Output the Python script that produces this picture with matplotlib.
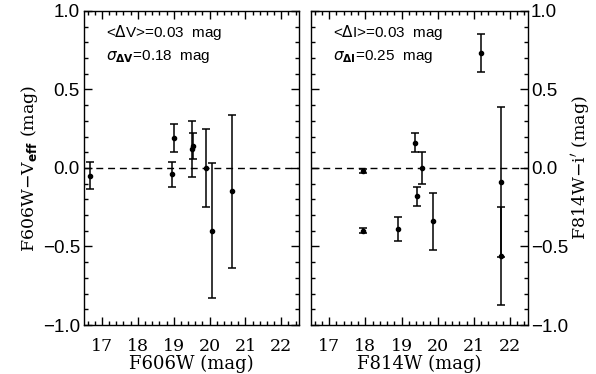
import matplotlib.pyplot as plt
from matplotlib.ticker import MultipleLocator

# F606W panel
v_mag = [16.67, 18.95, 19.01, 19.51, 19.55, 19.89, 20.08, 20.62]
v_diff = [-0.05, -0.04, 0.19, 0.12, 0.14, 0.00, -0.40, -0.15]
v_err = [0.085, 0.08, 0.09, 0.18, 0.085, 0.25, 0.43, 0.49]

# F814W panel
i_mag = [17.94, 17.94, 18.90, 19.37, 19.44, 19.58, 19.87, 21.19, 21.76, 21.76]
i_diff = [-0.02, -0.40, -0.39, 0.16, -0.18, 0.00, -0.34, 0.73, -0.09, -0.56]
i_err = [0.015, 0.015, 0.075, 0.06, 0.06, 0.10, 0.18, 0.12, 0.48, 0.31]

serif = 'DejaVu Serif'
sans = 'Liberation Sans'

fig = plt.figure(figsize=(5.96, 3.74), dpi=100)
ax1 = fig.add_axes([0.141, 0.131, 0.361, 0.840])
ax2 = fig.add_axes([0.522, 0.131, 0.364, 0.840])

panels = [
    (ax1, v_mag, v_diff, v_err, r'<$\Delta$V>=0.03  mag',
     r'$\sigma_{\mathbf{\Delta V}}$=0.18  mag', r'F606W$-$V$_{\mathbf{eff}}$ (mag)', 'F606W (mag)'),
    (ax2, i_mag, i_diff, i_err, r'<$\Delta$I>=0.03  mag',
     r'$\sigma_{\mathbf{\Delta I}}$=0.25  mag', r"F814W$-$i$'$ (mag)", 'F814W (mag)'),
]

for ax, x, y, e, t1, t2, ylab, xlab in panels:
    ax.errorbar(x, y, yerr=e, fmt='o', color='black', ms=3, elinewidth=1.1,
                capsize=3, capthick=1.1)
    ax.axhline(0, color='black', ls=(0, (5, 3.5)), lw=1)
    ax.set_xlim(16.5, 22.5)
    ax.set_ylim(-1.0, 1.0)
    ax.xaxis.set_major_locator(MultipleLocator(1))
    ax.xaxis.set_minor_locator(MultipleLocator(0.2))
    ax.yaxis.set_minor_locator(MultipleLocator(0.1))
    ax.set_yticks([-1.0, -0.5, 0.0, 0.5, 1.0])
    ax.set_yticklabels(['\u22121.0', '\u22120.5', '0.0', '0.5', '1.0'], family=sans)
    ax.tick_params(which='both', direction='in', top=True, right=True, left=True)
    ax.tick_params(which='major', length=6, width=1)
    ax.tick_params(which='minor', length=3, width=1)
    ax.tick_params(axis='x', labelsize=12.5, pad=9)
    ax.tick_params(axis='y', labelsize=13.5, pad=3)
    for lab in ax.get_xticklabels():
        lab.set_fontfamily(serif)
    for s in ax.spines.values():
        s.set_linewidth(1)
    ax.set_xlabel(xlab, fontsize=13, family=serif, labelpad=0)
    ax.text(0.1, 0.93, t1, transform=ax.transAxes, fontsize=11, family=sans,
            va='center', ha='left')
    ax.text(0.1, 0.855, t2, transform=ax.transAxes, fontsize=11, family=sans,
            va='center', ha='left')

ax1.set_ylabel(panels[0][6], fontsize=12.5, family=serif, labelpad=2)
ax2.yaxis.set_label_position('right')
ax2.yaxis.tick_right()
ax2.tick_params(which='both', left=True, right=True, labelleft=False, labelright=True)
ax2.tick_params(axis='y', pad=2)
ax2.set_ylabel(panels[1][6], fontsize=12.5, family=serif, labelpad=1)

fig.savefig('out.png', dpi=100)
